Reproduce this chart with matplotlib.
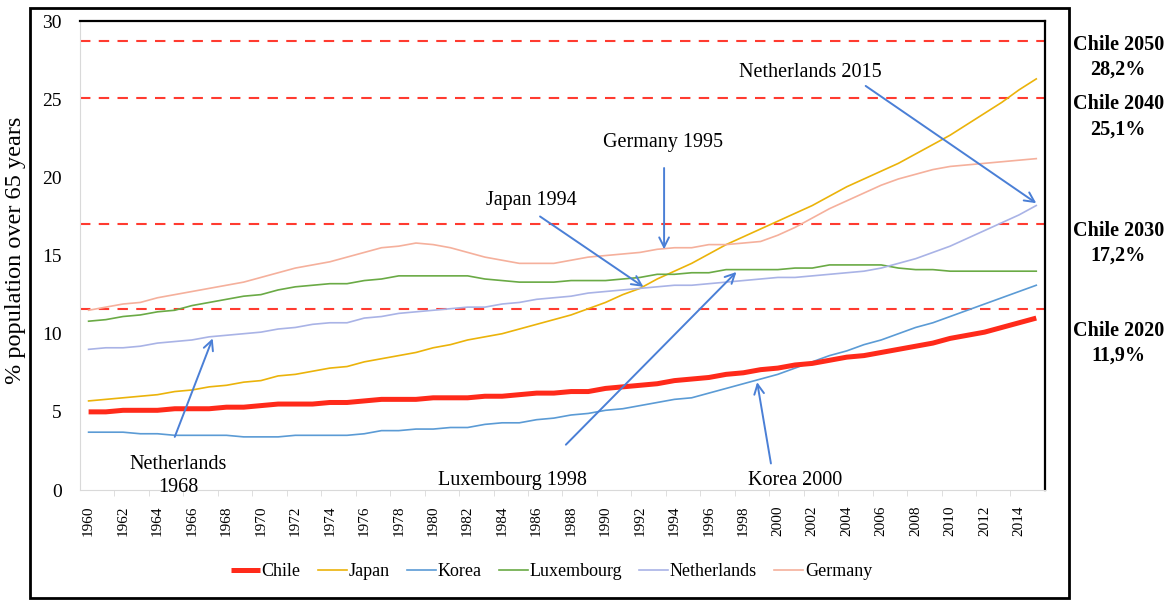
import numpy as np
import matplotlib
matplotlib.use('Agg')
import matplotlib.pyplot as plt
from matplotlib.patches import Rectangle

plt.rcParams['font.family'] = ['Liberation Serif', 'DejaVu Serif']

# ---------------------------------------------------------------------------
# data: % population over 65 years, 1960-2015
# ---------------------------------------------------------------------------
years = list(range(1960, 2016))

chile = [5.0, 5.0, 5.1, 5.1, 5.1, 5.2, 5.2, 5.2, 5.3, 5.3,
         5.4, 5.5, 5.5, 5.5, 5.6, 5.6, 5.7, 5.8, 5.8, 5.8,
         5.9, 5.9, 5.9, 6.0, 6.0, 6.1, 6.2, 6.2, 6.3, 6.3,
         6.5, 6.6, 6.7, 6.8, 7.0, 7.1, 7.2, 7.4, 7.5, 7.7,
         7.8, 8.0, 8.1, 8.3, 8.5, 8.6, 8.8, 9.0, 9.2, 9.4,
         9.7, 9.9, 10.1, 10.4, 10.7, 11.0]
japan = [5.7, 5.8, 5.9, 6.0, 6.1, 6.3, 6.4, 6.6, 6.7, 6.9,
         7.0, 7.3, 7.4, 7.6, 7.8, 7.9, 8.2, 8.4, 8.6, 8.8,
         9.1, 9.3, 9.6, 9.8, 10.0, 10.3, 10.6, 10.9, 11.2, 11.6,
         12.0, 12.5, 12.9, 13.5, 14.0, 14.5, 15.1, 15.7, 16.2, 16.7,
         17.2, 17.7, 18.2, 18.8, 19.4, 19.9, 20.4, 20.9, 21.5, 22.1,
         22.7, 23.4, 24.1, 24.8, 25.6, 26.3]
korea = [3.7, 3.7, 3.7, 3.6, 3.6, 3.5, 3.5, 3.5, 3.5, 3.4,
         3.4, 3.4, 3.5, 3.5, 3.5, 3.5, 3.6, 3.8, 3.8, 3.9,
         3.9, 4.0, 4.0, 4.2, 4.3, 4.3, 4.5, 4.6, 4.8, 4.9,
         5.1, 5.2, 5.4, 5.6, 5.8, 5.9, 6.2, 6.5, 6.8, 7.1,
         7.4, 7.8, 8.2, 8.6, 8.9, 9.3, 9.6, 10.0, 10.4, 10.7,
         11.1, 11.5, 11.9, 12.3, 12.7, 13.1]
luxembourg = [10.8, 10.9, 11.1, 11.2, 11.4, 11.5, 11.8, 12.0, 12.2, 12.4,
              12.5, 12.8, 13.0, 13.1, 13.2, 13.2, 13.4, 13.5, 13.7, 13.7,
              13.7, 13.7, 13.7, 13.5, 13.4, 13.3, 13.3, 13.3, 13.4, 13.4,
              13.4, 13.5, 13.6, 13.8, 13.8, 13.9, 13.9, 14.1, 14.1, 14.1,
              14.1, 14.2, 14.2, 14.4, 14.4, 14.4, 14.4, 14.2, 14.1, 14.1,
              14.0, 14.0, 14.0, 14.0, 14.0, 14.0]
netherlands = [9.0, 9.1, 9.1, 9.2, 9.4, 9.5, 9.6, 9.8, 9.9, 10.0,
               10.1, 10.3, 10.4, 10.6, 10.7, 10.7, 11.0, 11.1, 11.3, 11.4,
               11.5, 11.6, 11.7, 11.7, 11.9, 12.0, 12.2, 12.3, 12.4, 12.6,
               12.7, 12.8, 12.9, 13.0, 13.1, 13.1, 13.2, 13.3, 13.4, 13.5,
               13.6, 13.6, 13.7, 13.8, 13.9, 14.0, 14.2, 14.5, 14.8, 15.2,
               15.6, 16.1, 16.6, 17.1, 17.6, 18.2]
germany = [11.5, 11.7, 11.9, 12.0, 12.3, 12.5, 12.7, 12.9, 13.1, 13.3,
           13.6, 13.9, 14.2, 14.4, 14.6, 14.9, 15.2, 15.5, 15.6, 15.8,
           15.7, 15.5, 15.2, 14.9, 14.7, 14.5, 14.5, 14.5, 14.7, 14.9,
           15.0, 15.1, 15.2, 15.4, 15.5, 15.5, 15.7, 15.7, 15.8, 15.9,
           16.3, 16.8, 17.4, 18.0, 18.5, 19.0, 19.5, 19.9, 20.2, 20.5,
           20.7, 20.8, 20.9, 21.0, 21.1, 21.2]

# Chile projections (dashed reference lines)
proj_levels = [28.7, 25.1, 17.0, 11.6]
proj_labels = ['Chile 2050\n28,2%', 'Chile 2040\n25,1%',
               'Chile 2030\n17,2%', 'Chile 2020\n11,9%']
proj_label_y = [0.905, 0.806, 0.596, 0.430]

# annotations: text, text position, arrow tail, arrow head
notes = [
    ('Netherlands\n1968', (1965.2, 0.9), (1965.0, 3.4), (1967.2, 9.7)),
    ('Luxembourg 1998', (1984.6, 0.64), (1987.7, 2.9), (1997.6, 13.95)),
    ('Korea 2000', (2001.0, 0.64), (1999.6, 1.7), (1998.8, 6.9)),
    ('Japan 1994', (1985.7, 18.55), (1986.2, 17.5), (1992.2, 13.0)),
    ('Germany 1995', (1993.35, 22.2), (1993.4, 20.6), (1993.4, 15.4)),
    ('Netherlands 2015', (2001.9, 26.7), (2005.1, 25.85), (2015.0, 18.35)),
]

# ---------------------------------------------------------------------------
# figure
# ---------------------------------------------------------------------------
fig = plt.figure(figsize=(11.71, 6.02), dpi=100)
ax = fig.add_axes([0.0683, 0.186, 0.824, 0.779])

series = [
    ('Chile', chile, '#FF2A1A', 3.6),
    ('Japan', japan, '#EBB30A', 1.2),
    ('Korea', korea, '#5B9BD5', 1.2),
    ('Luxembourg', luxembourg, '#6AAA45', 1.2),
    ('Netherlands', netherlands, '#A9B3E6', 1.2),
    ('Germany', germany, '#F5B09C', 1.2),
]
for name, vals, col, lw in series[1:]:
    ax.plot(years, vals, color=col, lw=lw, label=name)
ax.plot(years, chile, color=series[0][2], lw=series[0][3], label='Chile',
        solid_capstyle='butt', zorder=5)

for lvl in proj_levels:
    ax.axhline(lvl, color='#FF3B30', lw=1.5, ls=(0, (5, 4)), zorder=1)

ax.set_xlim(1959.5, 2015.5)
ax.set_ylim(0, 30)
ax.set_yticks(range(0, 31, 5))
ax.set_xticks(range(1960, 2015, 2))
ax.set_xticks(np.arange(1961.5, 2015, 2), minor=True)
ax.tick_params(axis='x', which='major', length=0, labelrotation=90,
               labelsize=11, pad=11)
ax.tick_params(axis='x', which='minor', length=4, color='#D9D9D9')
ax.tick_params(axis='y', length=0, labelsize=14, pad=13)

for s in ['left', 'bottom']:
    ax.spines[s].set_color('#D9D9D9')
for s in ['top', 'right']:
    ax.spines[s].set_color('black')
    ax.spines[s].set_linewidth(1.6)

arrow_col = '#4A7FD6'
for txt, tpos, tail, head in notes:
    ax.text(tpos[0], tpos[1], txt, ha='center', va='center', fontsize=14.5,
            linespacing=1.3, clip_on=False, zorder=6)
    ax.annotate('', xy=head, xytext=tail,
                arrowprops=dict(arrowstyle='->,head_length=0.7,head_width=0.35',
                                color=arrow_col, lw=1.4, shrinkA=0, shrinkB=0),
                zorder=6)

fig.text(0.013, 0.585, '% population over 65 years', rotation=90,
         ha='center', va='center', fontsize=17.5)

for lab, yy in zip(proj_labels, proj_label_y):
    fig.text(0.955, yy, lab, ha='center', va='center', fontsize=14.5,
             fontweight='bold', linespacing=1.35)

handles, labels = ax.get_legend_handles_labels()
order = ['Chile', 'Japan', 'Korea', 'Luxembourg', 'Netherlands', 'Germany']
hmap = dict(zip(labels, handles))
fig.legend([hmap[k] for k in order], order, loc='center',
           bbox_to_anchor=(0.471, 0.05), ncol=6, frameon=False,
           fontsize=13, handlelength=1.6, handletextpad=0.1,
           columnspacing=0.95)

fig.patches.append(Rectangle((0.0256, 0.0066), 0.887, 0.980,
                             transform=fig.transFigure, fill=False,
                             edgecolor='black', lw=2))

fig.savefig('out.png', dpi=100)
